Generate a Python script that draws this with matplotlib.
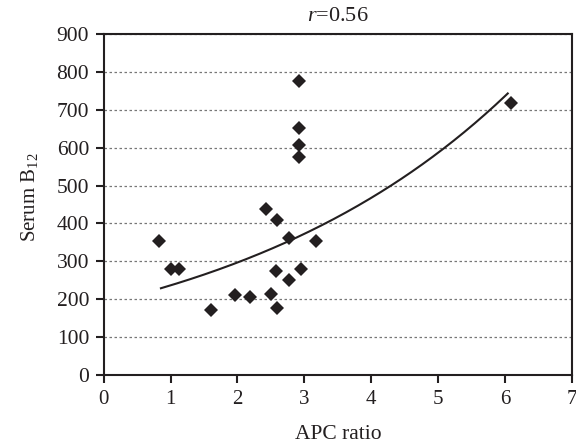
import numpy as np
import matplotlib.pyplot as plt

# APC ratio vs serum B12
apc_ratio = [0.83, 1.01, 1.12, 1.60, 1.97, 2.19, 2.42, 2.50, 2.59, 2.58, 2.59,
             2.77, 2.77, 2.95, 3.17, 2.92, 2.92, 2.92, 2.92, 6.09]
serum_b12 = [355, 279, 279, 171, 210, 205, 437, 213, 409, 274, 176,
             361, 252, 280, 354, 777, 651, 607, 576, 717]
r_value = 0.56

# exponential trend line y = a*exp(b*x)
trend_a = 188.6
trend_b = 0.227
trend_range = (0.856, 6.04)

plt.rcParams['font.family'] = 'Liberation Serif'
plt.rcParams['mathtext.fontset'] = 'custom'
plt.rcParams['mathtext.rm'] = 'Liberation Serif'
plt.rcParams['mathtext.it'] = 'Liberation Serif:italic'
plt.rcParams['font.size'] = 15.5

ink = '#231f20'

fig = plt.figure(figsize=(5.76, 4.47), dpi=100)
ax = fig.add_axes([0.180, 0.161, 0.813, 0.763])

x = np.array(apc_ratio)
y = np.array(serum_b12)
ax.plot(x, y, 'D', color=ink, markersize=7.5, markeredgewidth=0, zorder=3)

xs = np.linspace(trend_range[0], trend_range[1], 200)
ax.plot(xs, trend_a * np.exp(trend_b * xs), color=ink, lw=1.5, zorder=2)

ax.set_xlim(0, 7)
ax.set_ylim(0, 900)
ax.set_xticks(range(0, 8))
ax.set_yticks(range(0, 1000, 100))
ax.yaxis.grid(True, linestyle=(0, (2, 2)), color='#777777', lw=0.9)
ax.set_axisbelow(True)
for s in ax.spines.values():
    s.set_linewidth(1.5)
    s.set_color(ink)
ax.tick_params(direction='out', length=5.5, width=1.5, color=ink, pad=5,
               labelcolor=ink)
ax.tick_params(axis='x', labelsize=15)

ax.set_xlabel('APC ratio', labelpad=12, color=ink)
ax.set_ylabel('Serum B$_{\\mathregular{12}}$', labelpad=13, fontsize=15,
              color=ink)
ax.yaxis.set_label_coords(-0.135, 0.52)
fig.text(0.587, 0.962, '$r$=%.2f' % r_value, ha='center', va='center',
         fontsize=16, color=ink)

fig.savefig('out.png', dpi=100)
